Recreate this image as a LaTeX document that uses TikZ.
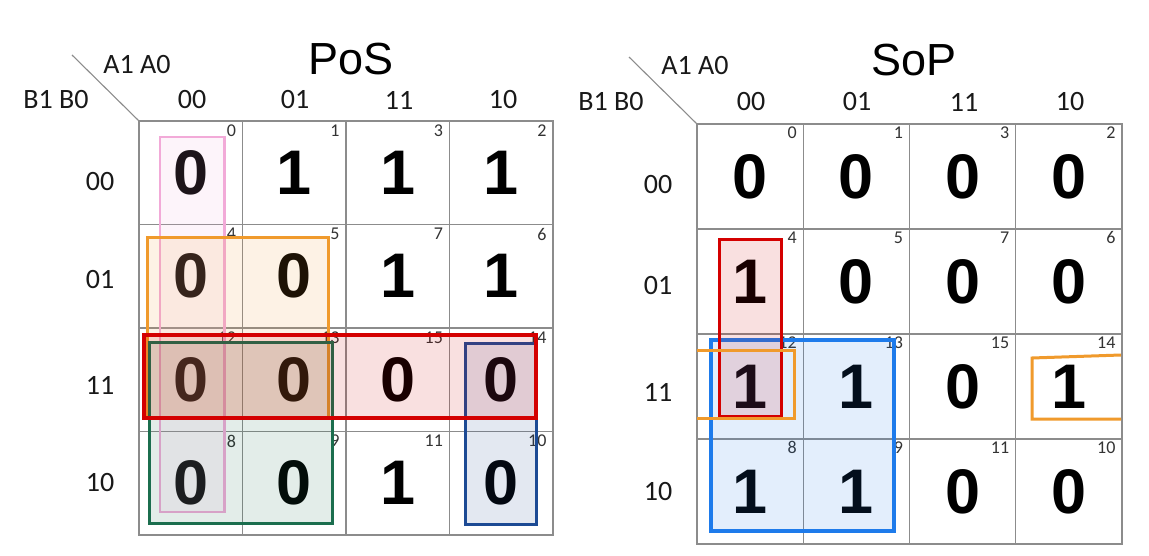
\documentclass[tikz,border=0pt]{standalone}
\usepackage{fontspec}
\setmainfont{Liberation Sans}
\newfontfamily\lblfont{Carlito}
\definecolor{gridc}{HTML}{8C8C8C}
\definecolor{pinkc}{HTML}{F2AAD8}
\definecolor{orangec}{HTML}{F09A2C}
\definecolor{redc}{HTML}{D40000}
\definecolor{greenc}{HTML}{1B6E4E}
\definecolor{dbluec}{HTML}{1C4A94}
\definecolor{bbluec}{HTML}{1E7BEB}
\begin{document}
\begin{tikzpicture}[x=1pt,y=-1pt,
  cellL/.style={draw=gridc, line width=1.3pt, minimum width=103.5pt, minimum height=103.5pt, inner sep=0pt},
  cellR/.style={draw=gridc, line width=1.3pt, minimum width=106.25pt, minimum height=105pt, inner sep=0pt},
  bigd/.style={font=\fontsize{63}{63}\selectfont\bfseries},
  idx/.style={font=\lblfont\fontsize{18}{18}\selectfont, inner sep=0pt, anchor=north east, text=black!80},
  lbl/.style={font=\lblfont\fontsize{28}{28}\selectfont, inner sep=0pt, text=black!90},
  ttl/.style={font=\fontsize{45}{45}\selectfont, inner sep=0pt},
  diag/.style={draw=gridc, line width=1.1pt},
  grp/.style={line width=3pt, fill opacity=0.12, draw opacity=1}]
\useasboundingbox (0,0) rectangle (1149,556);
\fill[white] (0,0) rectangle (1149,556);

% ---------------- Left map (PoS) ----------------
\foreach \r/\c/\v/\n in {0/0/0/0, 0/1/1/1, 0/2/1/3, 0/3/1/2,
                        1/0/0/4, 1/1/0/5, 1/2/1/7, 1/3/1/6,
                        2/0/0/12, 2/1/0/13, 2/2/0/15, 2/3/0/14,
                        3/0/0/8, 3/1/0/9, 3/2/1/11, 3/3/0/10}{
  \node[cellL, bigd] (L\n) at ({139+103.5*(\c+0.5)},{121+103.5*(\r+0.5)}) {\v};
  \node[idx] (Li\n) at ([xshift=-7pt,yshift=-4pt]L\n.north east) {\n};
}
\node[ttl] (Ltitle) at (351,59) {PoS};
\coordinate (Ldiag) at (72,55);
\draw[diag] (Ldiag) -- (L0.north west);
\node[lbl] (LA) at (137,65) {A1 A0};
\node[lbl] (LB) at (56,100) {B1 B0};
\node[lbl] (Lc0) at (192,100) {00};
\node[lbl] (Lc1) at (295,100) {01};
\node[lbl] (Lc2) at (399,100) {11};
\node[lbl] (Lc3) at (503,100) {10};
\node[lbl] (Lr0) at (100,182) {00};
\node[lbl] (Lr1) at (100,280) {01};
\node[lbl] (Lr2) at (100,385) {11};
\node[lbl] (Lr3) at (100,483) {10};

% groups
\draw[grp, draw=pinkc, fill=pinkc, line width=2.5pt] (160,137) rectangle (224.5,512);
\draw[grp, draw=orangec, fill=orangec] (147,238) rectangle (328.5,417);
\draw[grp, draw=greenc, fill=greenc] (149,342) rectangle (332,523);
\draw[grp, draw=dbluec, fill=dbluec] (465,343) rectangle (536.5,524);
\draw[grp, draw=redc, fill=redc, line width=4pt] (144,335) rectangle (536,418);

% ---------------- Right map (SoP) ----------------
\foreach \r/\c/\v/\n in {0/0/0/0, 0/1/0/1, 0/2/0/3, 0/3/0/2,
                        1/0/1/4, 1/1/0/5, 1/2/0/7, 1/3/0/6,
                        2/0/1/12, 2/1/1/13, 2/2/0/15, 2/3/1/14,
                        3/0/1/8, 3/1/1/9, 3/2/0/11, 3/3/0/10}{
  \node[cellR, bigd] (R\n) at ({697+106.25*(\c+0.5)},{124+105*(\r+0.5)}) {\v};
  \node[idx] (Ri\n) at ([xshift=-7pt,yshift=-3pt]R\n.north east) {\n};
}
\node[ttl] (Rtitle) at (914,60) {SoP};
\coordinate (Rdiag) at (629,57);
\draw[diag] (Rdiag) -- (R0.north west);
\node[lbl] (RA) at (695,66) {A1 A0};
\node[lbl] (RB) at (611,102) {B1 B0};
\node[lbl] (Rc0) at (751,102) {00};
\node[lbl] (Rc1) at (857,102) {01};
\node[lbl] (Rc2) at (964,102) {11};
\node[lbl] (Rc3) at (1070,102) {10};
\node[lbl] (Rr0) at (658,185) {00};
\node[lbl] (Rr1) at (658,286) {01};
\node[lbl] (Rr2) at (658,392) {11};
\node[lbl] (Rr3) at (658,492) {10};

\draw[grp, draw=bbluec, fill=bbluec, line width=3.5pt] (711,340) rectangle (894,531);
\draw[grp, draw=redc, fill=redc] (719,240) rectangle (781,416);
\draw[grp, draw=orangec] (697,350) -- (794,350) -- (794,418) -- (697,418);
\draw[grp, draw=orangec] (1121,355) -- (1032,358) -- (1032,419) -- (1121,419);
\end{tikzpicture}
\end{document}
